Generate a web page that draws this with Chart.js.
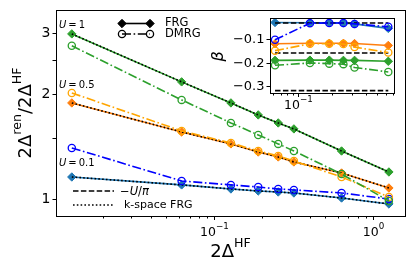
<!DOCTYPE html>
<html><head><meta charset="utf-8">
<script src="https://cdn.jsdelivr.net/npm/chart.js@4"></script>
<style>
html,body{margin:0;padding:0;background:#fff;}
#wrap{position:relative;width:415px;height:277px;}
canvas{position:absolute;left:0;top:0;}
</style></head><body>
<div id="wrap"><canvas id="main" width="415" height="277"></canvas><canvas id="inset" width="415" height="277"></canvas></div>
<script>
// ---------- data ----------
const xHF = [0.0127, 0.0624, 0.1275, 0.1894, 0.2531, 0.3177, 0.634, 1.259];
const frgU1   = [2.98, 2.17, 1.888, 1.744, 1.654, 1.59, 1.374, 1.196];
const dmrgU1  = [2.754, 1.926, 1.654, 1.528, 1.44, 1.374, 1.18, 0.987];
const frgU05  = [1.888, 1.558, 1.44, 1.365, 1.321, 1.278, 1.188, 1.076];
const dmrgU05 = [2.017, 1.569, 1.449, 1.374, 1.33, 1.286, 1.157, 1.014];
const frgU01  = [1.157, 1.098, 1.069, 1.055, 1.048, 1.041, 1.007, 0.968];
const dmrgU01 = [1.402, 1.127, 1.098, 1.083, 1.069, 1.062, 1.041, 1.0];
const kspaceU1  = [2.98, 2.17, 1.888, 1.744, 1.654, 1.59, 1.374, 1.196];
const kspaceU05 = [1.888, 1.558, 1.44, 1.365, 1.321, 1.278, 1.188, 1.076];
const kspaceU01 = [1.157, 1.098, 1.069, 1.055, 1.048, 1.041, 1.007, 0.968];

const xInset = [0.0624, 0.1275, 0.1894, 0.2531, 0.3177, 0.634];
const betaFrgU01  = [-0.030, -0.031, -0.031, -0.032, -0.036, -0.055];
const betaDmrgU01 = [-0.103, -0.033, -0.032, -0.032, -0.036, -0.048];
const betaFrgU05  = [-0.120, -0.118, -0.118, -0.118, -0.119, -0.127];
const betaDmrgU05 = [-0.149, -0.120, -0.120, -0.121, -0.134, -0.157];
const betaFrgU1   = [-0.190, -0.189, -0.189, -0.190, -0.190, -0.194];
const betaDmrgU1  = [-0.211, -0.201, -0.204, -0.206, -0.220, -0.239];
const minusUoverPi = [-0.032, -0.159, -0.318];

const yTicksMain = [1, 1.5, 2, 2.5, 3];
const yTickLabelsMain = ['1', '', '2', '', '3'];
const xMajorTicks = [0.01, 0.1, 1];
const xMajorExp = ['\u22122', '\u22121', '0'];
const yTicksInset = [-0.1, -0.2, -0.3];
const yTickLabelsInset = ['\u22120.1', '\u22120.2', '\u22120.3'];

// ---------- helpers ----------
const FONT = '"DejaVu Sans", "Liberation Sans", sans-serif';
function setFont(ctx, size, italic) { ctx.font = (italic ? 'oblique ' : '') + size + 'px ' + FONT; }
function richWidth(ctx, parts, size) {
  let w = 0;
  for (const p of parts) { setFont(ctx, p.sup ? size * 0.7 : size, p.it); w += ctx.measureText(p.t).width; }
  return w;
}
function drawRich(ctx, parts, x, y, size, align) {
  const w = richWidth(ctx, parts, size);
  let cx = align === 'center' ? x - w / 2 : (align === 'right' ? x - w : x);
  ctx.textBaseline = 'alphabetic'; ctx.textAlign = 'left';
  for (const p of parts) {
    const s = p.sup ? size * 0.7 : size;
    setFont(ctx, s, p.it);
    ctx.fillText(p.t, cx, p.sup ? y - size * 0.55 : y);
    cx += ctx.measureText(p.t).width;
  }
}
function pts(xs, ys) { return xs.map((x, i) => ({ x: x, y: ys[i] })); }
function minorLog(min, max) {
  const out = [];
  for (let e = -3; e <= 1; e++) for (let m = 2; m <= 9; m++) {
    const v = m * Math.pow(10, e); if (v > min && v < max) out.push(v);
  }
  return out;
}
function diamond(ctx, x, y, r) { ctx.beginPath(); ctx.moveTo(x, y - r); ctx.lineTo(x + r, y); ctx.lineTo(x, y + r); ctx.lineTo(x - r, y); ctx.closePath(); ctx.fill(); ctx.stroke(); }
function circle(ctx, x, y, r) { ctx.beginPath(); ctx.arc(x, y, r, 0, Math.PI * 2); ctx.stroke(); }

const C_BLUE = '#1f77b4', C_BLUE2 = '#0000ff', C_OR = '#ff7f0e', C_OR2 = '#ffa500', C_GR = '#2ca02c', C_GR2 = '#2ca02c';
const DASHDOT = [9, 2.6, 1.6, 2.6];

function frg(xs, ys, color, order, r) {
  return { data: pts(xs, ys), borderColor: color, backgroundColor: color, borderWidth: 1.6,
    pointStyle: 'rectRot', pointRadius: r || 4.2, pointBorderWidth: 1, pointBackgroundColor: color,
    pointBorderColor: color, order: order, tension: 0 };
}
function dmrg(xs, ys, color, order) {
  return { data: pts(xs, ys), borderColor: color, backgroundColor: 'rgba(0,0,0,0)', borderWidth: 1.6,
    borderDash: DASHDOT, pointStyle: 'circle', pointRadius: 3.6, pointBorderWidth: 1.3,
    pointBackgroundColor: 'rgba(0,0,0,0)', pointBorderColor: color, order: order, tension: 0 };
}
function kspace(xs, ys, order) {
  return { data: pts(xs, ys), borderColor: '#000', borderWidth: 1.6, borderDash: [1.6, 2.2],
    pointRadius: 0, order: order, tension: 0 };
}

// ---------- main chart ----------
const mainDecor = {
  id: 'mainDecor',
  afterDraw(chart) {
    const ctx = chart.ctx, a = chart.chartArea, xs = chart.scales.x, ys = chart.scales.y;
    ctx.save();
    ctx.strokeStyle = '#000'; ctx.lineWidth = 1; ctx.setLineDash([]);
    ctx.strokeRect(Math.round(a.left) + 0.5, Math.round(a.top) + 0.5, Math.round(a.right - a.left), Math.round(a.bottom - a.top));
    ctx.fillStyle = '#000';
    yTicksMain.forEach((v, i) => {
      const py = Math.round(ys.getPixelForValue(v)) + 0.5;
      ctx.beginPath(); ctx.moveTo(a.left - 3.5, py); ctx.lineTo(a.left, py); ctx.stroke();
      if (yTickLabelsMain[i]) { setFont(ctx, 14); ctx.textAlign = 'right'; ctx.textBaseline = 'middle'; ctx.fillText(yTickLabelsMain[i], a.left - 5.5, py); }
    });
    minorLog(xs.min, xs.max).forEach(v => {
      const px = Math.round(xs.getPixelForValue(v)) + 0.5;
      ctx.beginPath(); ctx.moveTo(px, a.bottom); ctx.lineTo(px, a.bottom + 2.5); ctx.stroke();
    });
    xMajorTicks.forEach((v, i) => {
      if (v < xs.min || v > xs.max) return;
      const px = Math.round(xs.getPixelForValue(v)) + 0.5;
      ctx.beginPath(); ctx.moveTo(px, a.bottom); ctx.lineTo(px, a.bottom + 4); ctx.stroke();
      drawRich(ctx, [{ t: '10' }, { t: xMajorExp[i], sup: true }], px, a.bottom + 19.5, 12.5, 'center');
    });
    drawRich(ctx, [{ t: '2\u0394' }, { t: 'HF', sup: true }], (a.left + a.right) / 2, 257, 18, 'center');
    ctx.save(); ctx.translate(31, (a.top + a.bottom) / 2); ctx.rotate(-Math.PI / 2);
    drawRich(ctx, [{ t: '2\u0394' }, { t: 'ren', sup: true }, { t: '/2\u0394' }, { t: 'HF', sup: true }], 0, 0, 18, 'center');
    ctx.restore();
    const ann = [['1', 28], ['0.5', 87.5], ['0.1', 166]];
    ann.forEach(([val, by]) => drawRich(ctx, [{ t: 'U', it: true }, { t: '\u2009=\u2009' + val }], a.left + 3, by, 10, 'left'));
    // legend 1
    ctx.lineWidth = 1.6; ctx.strokeStyle = '#000'; ctx.fillStyle = '#000';
    ctx.beginPath(); ctx.moveTo(122, 23.5); ctx.lineTo(150, 23.5); ctx.stroke();
    ctx.lineWidth = 1; diamond(ctx, 122, 23.5, 4.2); diamond(ctx, 150, 23.5, 4.2);
    ctx.lineWidth = 1.6; ctx.setLineDash(DASHDOT);
    ctx.beginPath(); ctx.moveTo(122, 34); ctx.lineTo(150, 34); ctx.stroke();
    ctx.setLineDash([]); ctx.lineWidth = 1.3; circle(ctx, 122, 34, 3.6); circle(ctx, 150, 34, 3.6);
    setFont(ctx, 11.5); ctx.textAlign = 'left'; ctx.textBaseline = 'middle';
    ctx.fillText('FRG', 165, 23.5); ctx.fillText('DMRG', 165, 34.5);
    // legend 2
    ctx.lineWidth = 1.6; ctx.setLineDash([5.5, 2.4]);
    ctx.beginPath(); ctx.moveTo(73, 191); ctx.lineTo(114, 191); ctx.stroke();
    ctx.setLineDash([1.6, 2.2]);
    ctx.beginPath(); ctx.moveTo(73, 205); ctx.lineTo(114, 205); ctx.stroke();
    ctx.setLineDash([]);
    drawRich(ctx, [{ t: '\u2212' }, { t: 'U', it: true }, { t: '/' }, { t: '\u03c0', it: true }], 120, 195, 11.5, 'left');
    setFont(ctx, 11); ctx.textBaseline = 'middle'; ctx.fillText('k-space FRG', 124, 205);
    ctx.restore();
  }
};

new Chart(document.getElementById('main'), {
  type: 'line',
  data: { datasets: [
    frg(xHF, frgU1, C_GR, 30), kspace(xHF, kspaceU1, 20), dmrg(xHF, dmrgU1, C_GR2, 10),
    frg(xHF, frgU05, C_OR, 30), kspace(xHF, kspaceU05, 20), dmrg(xHF, dmrgU05, C_OR2, 10),
    frg(xHF, frgU01, C_BLUE, 30), kspace(xHF, kspaceU01, 20), dmrg(xHF, dmrgU01, C_BLUE2, 10)
  ] },
  options: {
    responsive: false, animation: false, devicePixelRatio: 1,
    layout: { padding: { left: 56, top: 10, right: 10, bottom: 61 } },
    plugins: { legend: { display: false }, tooltip: { enabled: false } },
    scales: {
      x: { type: 'logarithmic', min: 0.0101, max: 1.59, display: false },
      y: { type: 'logarithmic', min: 0.894, max: 3.49, display: false }
    }
  },
  plugins: [mainDecor]
});

// ---------- inset ----------
const insetDecor = {
  id: 'insetDecor',
  beforeDatasetsDraw(chart) {
    const ctx = chart.ctx, a = chart.chartArea;
    ctx.save(); ctx.fillStyle = '#fff'; ctx.fillRect(a.left, a.top, a.right - a.left, a.bottom - a.top); ctx.restore();
  },
  afterDraw(chart) {
    const ctx = chart.ctx, a = chart.chartArea, xs = chart.scales.x, ys = chart.scales.y;
    ctx.save();
    ctx.strokeStyle = '#000'; ctx.lineWidth = 1; ctx.setLineDash([]);
    ctx.strokeRect(Math.round(a.left) + 0.5, Math.round(a.top) + 0.5, Math.round(a.right - a.left), Math.round(a.bottom - a.top));
    ctx.fillStyle = '#000';
    yTicksInset.forEach((v, i) => {
      const py = Math.round(ys.getPixelForValue(v)) + 0.5;
      ctx.beginPath(); ctx.moveTo(a.left - 3.5, py); ctx.lineTo(a.left, py); ctx.stroke();
      setFont(ctx, 13); ctx.textAlign = 'right'; ctx.textBaseline = 'middle'; ctx.fillText(yTickLabelsInset[i], a.left - 5.5, py);
    });
    minorLog(xs.min, xs.max).forEach(v => {
      const px = Math.round(xs.getPixelForValue(v)) + 0.5;
      ctx.beginPath(); ctx.moveTo(px, a.bottom); ctx.lineTo(px, a.bottom + 2.5); ctx.stroke();
    });
    xMajorTicks.forEach((v, i) => {
      if (v < xs.min || v > xs.max) return;
      const px = Math.round(xs.getPixelForValue(v)) + 0.5;
      ctx.beginPath(); ctx.moveTo(px, a.bottom); ctx.lineTo(px, a.bottom + 4); ctx.stroke();
      drawRich(ctx, [{ t: '10' }, { t: xMajorExp[i], sup: true }], px, a.bottom + 15.5, 12.5, 'center');
    });
    ctx.save(); ctx.translate(223, (a.top + a.bottom) / 2 + 1); ctx.rotate(-Math.PI / 2);
    setFont(ctx, 16, true); ctx.textAlign = 'center'; ctx.textBaseline = 'alphabetic'; ctx.fillText('\u03b2', 0, 0);
    ctx.restore();
    ctx.restore();
  }
};
function hline(val, order) {
  return { data: [{ x: xInset[0], y: val }, { x: xInset[xInset.length - 1], y: val }], borderColor: '#000',
    borderWidth: 1.6, borderDash: [5.5, 2.4], pointRadius: 0, order: order };
}
new Chart(document.getElementById('inset'), {
  type: 'line',
  data: { datasets: [
    hline(minusUoverPi[0], 25), hline(minusUoverPi[1], 25), hline(minusUoverPi[2], 25),
    frg(xInset, betaFrgU01, C_BLUE, 30), dmrg(xInset, betaDmrgU01, C_BLUE2, 10),
    frg(xInset, betaFrgU05, C_OR, 30), dmrg(xInset, betaDmrgU05, C_OR2, 10),
    frg(xInset, betaFrgU1, C_GR, 30), dmrg(xInset, betaDmrgU1, C_GR2, 10)
  ] },
  options: {
    responsive: false, animation: false, devicePixelRatio: 1,
    layout: { padding: { left: 270, top: 18, right: 21, bottom: 184 } },
    plugins: { legend: { display: false }, tooltip: { enabled: false } },
    scales: {
      x: { type: 'logarithmic', min: 0.0563, max: 0.7126, display: false },
      y: { type: 'linear', min: -0.328, max: -0.011, display: false }
    }
  },
  plugins: [insetDecor]
});
</script>
</body></html>
